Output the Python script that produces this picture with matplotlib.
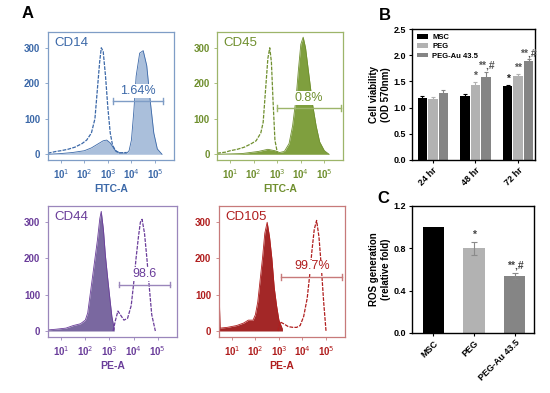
import numpy as np
import matplotlib
matplotlib.use("Agg")
import matplotlib.pyplot as plt

plt.rcParams['font.family'] = ['Liberation Sans', 'DejaVu Sans']

# ---- flow cytometry histograms (x = log10 intensity, y = count) ----
cd14_open_lx = [0.45, 0.8, 1.0, 1.3, 1.6, 1.9, 2.1, 2.3, 2.45, 2.55, 2.65, 2.72, 2.8, 2.9, 3.0, 3.1, 3.2, 3.35, 3.5, 3.8]
cd14_open_n = [3, 8, 10, 14, 20, 30, 40, 60, 100, 180, 260, 300, 290, 220, 130, 60, 25, 8, 4, 5]
cd14_fill_lx = [0.45, 1.0, 1.5, 2.0, 2.3, 2.6, 2.8, 2.95, 3.1, 3.3, 3.5, 3.8, 3.9, 4.0, 4.1, 4.2, 4.35, 4.5, 4.65, 4.8, 4.95, 5.1, 5.3]
cd14_fill_n = [0, 2, 5, 10, 18, 30, 38, 40, 32, 12, 4, 3, 10, 40, 120, 220, 285, 292, 250, 150, 60, 15, 0]

cd45_open_lx = [0.45, 0.8, 1.0, 1.3, 1.6, 1.9, 2.1, 2.3, 2.4, 2.5, 2.6, 2.68, 2.75, 2.82, 2.9, 3.0]
cd45_open_n = [3, 6, 10, 14, 20, 30, 38, 60, 90, 180, 270, 300, 260, 150, 40, 5]
cd45_fill_lx = [0.45, 1.5, 2.2, 2.6, 2.9, 3.1, 3.3, 3.5, 3.65, 3.8, 3.9, 4.0, 4.1, 4.2, 4.35, 4.5, 4.65, 4.8, 5.0, 5.2]
cd45_fill_n = [0, 2, 8, 14, 10, 5, 8, 30, 80, 160, 240, 310, 330, 300, 220, 140, 80, 35, 10, 0]

cd44_fill_lx = [0.45, 0.8, 1.2, 1.5, 1.8, 2.0, 2.1, 2.2, 2.3, 2.4, 2.5, 2.6, 2.66, 2.75, 2.83, 2.92, 3.0, 3.1, 3.2]
cd44_fill_n = [3, 5, 8, 15, 20, 30, 50, 100, 150, 200, 250, 310, 330, 280, 210, 150, 100, 40, 5]
cd44_open_lx = [3.15, 3.25, 3.35, 3.45, 3.6, 3.75, 3.9, 4.0, 4.1, 4.2, 4.28, 4.35, 4.45, 4.55, 4.65, 4.75, 4.9]
cd44_open_n = [0, 30, 55, 45, 30, 35, 70, 130, 200, 260, 300, 308, 270, 200, 120, 45, 0]

cd105_fill_lx = [0.45, 0.5, 0.8, 1.2, 1.5, 1.7, 1.9, 2.0, 2.1, 2.2, 2.3, 2.4, 2.5, 2.6, 2.7, 2.8, 2.9, 3.0, 3.15]
cd105_fill_n = [130, 8, 10, 15, 22, 30, 30, 45, 80, 140, 200, 270, 300, 260, 200, 120, 70, 30, 5]
cd105_open_lx = [2.95, 3.05, 3.2, 3.4, 3.6, 3.75, 3.9, 4.05, 4.2, 4.3, 4.4, 4.5, 4.6, 4.7, 4.8, 4.9, 5.0]
cd105_open_n = [0, 25, 20, 12, 10, 10, 15, 40, 90, 150, 220, 280, 305, 260, 177, 80, 0]

# gates: (log10 start, log10 end, y), label
gates = {
    'CD14': (3.2, 5.35, 150, '1.64%'),
    'CD45': (3.0, 5.7, 130, '0.8%'),
    'CD44': (3.4, 5.5, 128, '98.6'),
    'CD105': (3.1, 5.7, 150, '99.7%'),
}

# ---- panel B: cell viability ----
times = ['24 hr', '48 hr', '72 hr']
groups = ['MSC', 'PEG', 'PEG-Au 43.5']
via_msc = [1.19, 1.23, 1.41]
via_peg = [1.17, 1.44, 1.60]
via_au = [1.28, 1.59, 1.89]
via_msc_err = [0.03, 0.03, 0.03]
via_peg_err = [0.04, 0.05, 0.04]
via_au_err = [0.05, 0.09, 0.03]
via_marks = [['', '', ''], ['', '*', '**,#'], ['*', '**', '**,#']]

# ---- panel C: ROS ----
ros = [1.0, 0.80, 0.54]
ros_err = [0.0, 0.06, 0.03]
ros_marks = ['', '*', '**,#']

bar_cols = ['#000000', '#b2b2b2', '#858585']

fig = plt.figure(figsize=(5.5, 3.93), dpi=100)


def flow_panel(rect, name, open_lx, open_n, fill_lx, fill_n, dark, light, fillc, xlabel):
    ax = fig.add_axes(rect)
    fx = 10 ** np.array(fill_lx)
    ox = 10 ** np.array(open_lx)
    ax.fill_between(fx, fill_n, color=fillc, lw=0)
    ax.plot(fx, fill_n, color=dark, lw=0.6)
    ax.plot(ox, open_n, color=dark, lw=0.9, dashes=(3, 1))
    g0, g1, gy, glab = gates[name]
    ax.plot([10 ** g0, 10 ** g1], [gy, gy], color=light, lw=1.0)
    ax.plot([10 ** g0] * 2, [gy - 8, gy + 8], color=light, lw=1.0)
    ax.plot([10 ** g1] * 2, [gy - 8, gy + 8], color=light, lw=1.0)
    gm = 10 ** ((g0 + g1) / 2)
    ax.text(gm, gy + 12, glab, color=dark, fontsize=9, ha='center', va='bottom',
            bbox=dict(facecolor='white', edgecolor='none', pad=0.5))
    ax.text(0.05, 0.96, name, transform=ax.transAxes, color=dark, fontsize=9.5,
            ha='left', va='top')
    ax.set_xscale('log')
    ax.set_xlim(10 ** 0.45, 10 ** 5.8)
    ax.set_ylim(-16, 345)
    ax.set_xticks([1e1, 1e2, 1e3, 1e4, 1e5])
    ax.set_xticklabels(['10$^1$', '10$^2$', '10$^3$', '10$^4$', '10$^5$'])
    ax.minorticks_off()
    ax.set_yticks([0, 100, 200, 300])
    for s in ax.spines.values():
        s.set_color(light)
        s.set_linewidth(0.9)
    ax.tick_params(colors=light, labelcolor=dark, labelsize=7, length=2, width=0.6)
    for t in ax.get_xticklabels() + ax.get_yticklabels():
        t.set_fontweight('bold')
    ax.set_xlabel(xlabel, color=dark, fontsize=7.5, fontweight='bold', labelpad=2)
    return ax


flow_panel([0.087, 0.593, 0.229, 0.326], 'CD14', cd14_open_lx, cd14_open_n,
           cd14_fill_lx, cd14_fill_n, '#3b68a8', '#7f9dc6', '#aabfdb', 'FITC-A')
flow_panel([0.395, 0.593, 0.229, 0.326], 'CD45', cd45_open_lx, cd45_open_n,
           cd45_fill_lx, cd45_fill_n, '#6f8f2e', '#9db56a', '#7f9f3e', 'FITC-A')
flow_panel([0.087, 0.143, 0.235, 0.333], 'CD44', cd44_open_lx, cd44_open_n,
           cd44_fill_lx, cd44_fill_n, '#6a3d9a', '#9a86bb', '#7a68a0', 'PE-A')
flow_panel([0.398, 0.143, 0.229, 0.333], 'CD105', cd105_open_lx, cd105_open_n,
           cd105_fill_lx, cd105_fill_n, '#b01e1e', '#c77a7a', '#a32727', 'PE-A')

# ---- panel B ----
axb = fig.add_axes([0.749, 0.593, 0.224, 0.333])
x = np.arange(len(times))
w = 0.22
series = [via_msc, via_peg, via_au]
errs = [via_msc_err, via_peg_err, via_au_err]
for i, (vals, er) in enumerate(zip(series, errs)):
    pos = x + (i - 1) * (w + 0.025)
    axb.bar(pos, vals, w, color=bar_cols[i], label=groups[i])
    axb.errorbar(pos, vals, yerr=er, fmt='none', ecolor=bar_cols[i], capsize=1.5,
                 elinewidth=0.8, capthick=0.8)
    for j in range(len(times)):
        m = via_marks[j][i]
        if m:
            axb.text(pos[j], vals[j] + er[j] + 0.02, m, ha='center', va='bottom',
                     fontsize=7.5, fontweight='bold', color='#222222' if i == 0 else '#555555')
axb.set_xlim(-0.49, 2.4)
axb.set_ylim(0, 2.5)
axb.set_yticks([0, 0.5, 1.0, 1.5, 2.0, 2.5])
axb.set_yticklabels(['0.0', '0.5', '1.0', '1.5', '2.0', '2.5'])
axb.set_xticks(x)
axb.set_xticklabels(times, rotation=45, ha='right', rotation_mode='anchor')
axb.set_ylabel('Cell viability\n(OD 570nm)', fontsize=7, fontweight='bold', labelpad=2)
axb.tick_params(labelsize=6.5, length=2.5, width=0.8, pad=1.5)
for t in axb.get_xticklabels() + axb.get_yticklabels():
    t.set_fontweight('bold')
for s in axb.spines.values():
    s.set_linewidth(1.0)
axb.legend(loc='upper left', frameon=False, handlelength=1.5, handleheight=0.55,
           handletextpad=0.5, borderaxespad=0.25, labelspacing=0.3,
           prop={'weight': 'bold', 'size': 5.5})

# ---- panel C ----
axc = fig.add_axes([0.749, 0.153, 0.222, 0.323])
xc = np.arange(len(groups))
axc.bar(xc, ros, 0.52, color=bar_cols)
axc.errorbar(xc[1:], ros[1:], yerr=ros_err[1:], fmt='none', ecolor='#8a8a8a', capsize=2,
             elinewidth=0.8, capthick=0.8)
for j in range(len(groups)):
    if ros_marks[j]:
        axc.text(xc[j], ros[j] + ros_err[j] + 0.02, ros_marks[j], ha='center', va='bottom',
                 fontsize=7.5, fontweight='bold', color='#444444')
axc.set_xlim(-0.52, 2.47)
axc.set_ylim(0, 1.2)
axc.set_yticks([0, 0.4, 0.8, 1.2])
axc.set_yticklabels(['0.0', '0.4', '0.8', '1.2'])
axc.set_xticks(xc)
axc.set_xticklabels(groups, rotation=45, ha='right', rotation_mode='anchor')
axc.set_ylabel('ROS generation\n(relative fold)', fontsize=7, fontweight='bold', labelpad=2)
axc.tick_params(labelsize=6.5, length=2.5, width=0.8, pad=1.5)
for t in axc.get_xticklabels() + axc.get_yticklabels():
    t.set_fontweight('bold')
for s in axc.spines.values():
    s.set_linewidth(1.0)

fig.text(0.04, 0.965, 'A', fontsize=12, fontweight='bold', va='center')
fig.text(0.688, 0.96, 'B', fontsize=12, fontweight='bold', va='center')
fig.text(0.686, 0.495, 'C', fontsize=12, fontweight='bold', va='center')

fig.savefig('out.png', dpi=100)
